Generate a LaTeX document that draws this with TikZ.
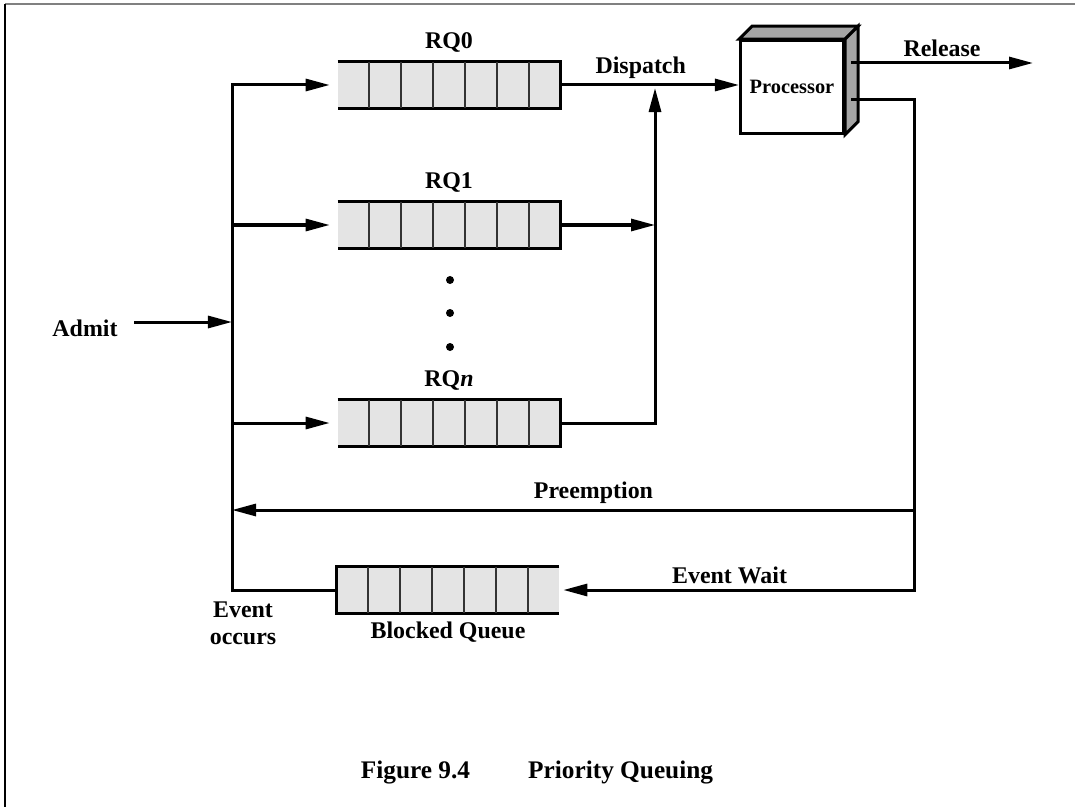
\documentclass[tikz,border=0pt]{standalone}
\usepackage{fontspec}
\setmainfont{Liberation Serif}
\usetikzlibrary{arrows.meta,positioning,calc}
\definecolor{cellgray}{RGB}{228,228,228}
\definecolor{sidegray}{RGB}{165,165,165}

\begin{document}
\begin{tikzpicture}[x=0.025cm,y=-0.025cm,
	queue/.style={fill=cellgray,minimum width=5.55cm,minimum height=1.15cm,inner sep=0pt},
	cpubox/.style={draw,line width=0.07cm,fill=white,minimum width=2.58cm,minimum height=2.32cm,inner sep=0pt,font=\fontsize{14.5}{17}\selectfont\bfseries},
	lbl/.style={font=\fontsize{17}{19}\selectfont\bfseries},
	edge/.style={line width=0.075cm},
	cell/.style={line width=0.05cm,black!80},
	flow/.style={edge,-{Triangle[length=0.6cm,width=0.3cm]}}]
\useasboundingbox (0,0) rectangle (1075,807);
\draw[black!50,line width=0.03cm] (1075,4) -- (5,4);
\draw[black,line width=0.05cm] (5,4) -- (5,807);
% ready queues and blocked queue
\node[queue] (rq0) at (449,85) {};
\node[queue] (rq1) at (449,225) {};
\node[queue] (rqn) at (449,423) {};
\node[queue] (blocked) at (448,590) {};
\foreach \q in {rq0,rq1,rqn}
	\draw[edge] (\q.north west) -- (\q.north east) -- (\q.south east) -- (\q.south west);
\draw[edge] (blocked.north east) -- (blocked.north west) -- (blocked.south west) -- (blocked.south east);
\foreach \q in {rq0,rq1,rqn,blocked}
	\foreach \i in {1,...,6}
		\draw[cell] ($(\q.north west)!\i/7!(\q.north east)$) -- ($(\q.south west)!\i/7!(\q.south east)$);
\node[lbl,above=0.12cm of rq0] {RQ0};
\node[lbl,above=0.12cm of rq1] {RQ1};
\node[lbl,above=0.12cm of rqn] {RQ\textit{n}};
\node[lbl,below=0.1cm of blocked] {Blocked Queue};
\foreach \y in {280,313,347}
	\fill (450,\y) circle (0.1cm);
% processor
\node[cpubox] (cpu) at (792,87) {Processor};
\filldraw[edge,fill=sidegray] (cpu.north west) -- ++(13,-13) -- ($(cpu.north east)+(13,-13)$) -- (cpu.north east) -- cycle;
\filldraw[edge,fill=sidegray] (cpu.north east) -- ++(13,-13) -- ($(cpu.south east)+(13,-13)$) -- (cpu.south east) -- cycle;
\coordinate (relport) at (851,63);
\coordinate (waitport) at (851,100);
\coordinate (relend) at (1033,63);
% junctions
\coordinate (trunk) at (232,85);
\coordinate (admitend) at (232,322);
\coordinate (merge) at (655,88);
\coordinate (preempt) at (914,510);
\coordinate (ewcorner) at (914,590);
\node[lbl] (admit) at (85,328) {Admit};
\node[lbl,align=center] (evocc) at (243,623) {Event\\occurs};
\node[font=\fontsize{18}{22}\selectfont\bfseries] (caption) at (537,773) {Figure 9.4\hspace{1.45cm}Priority Queuing};
% connectors
\draw[flow,shorten <=0.29cm] (admit.east |- admitend) -- (admitend);
\draw[flow,shorten >=0.2cm] (blocked.west) -| (trunk) -- (rq0.west);
\draw[flow,shorten >=0.2cm] (rq1.west -| trunk) -- (rq1.west);
\draw[flow,shorten >=0.2cm] (rqn.west -| trunk) -- (rqn.west);
\draw[flow] (rq0.east) -- node[lbl,above,pos=0.45]{Dispatch} (rq0.east -| cpu.west);
\draw[flow] (rq1.east) -- (rq1.east -| merge);
\draw[flow] (rqn.east) -| (merge);
\draw[flow] (relport) -- node[lbl,above]{Release} (relend);
\draw[flow,shorten >=0.1cm] (waitport) -| (ewcorner) -- node[lbl,above,pos=0.52]{Event Wait} (blocked.east);
\draw[flow] (preempt) -- node[lbl,above,pos=0.47]{Preemption} (preempt -| trunk);
\end{tikzpicture}
\end{document}
